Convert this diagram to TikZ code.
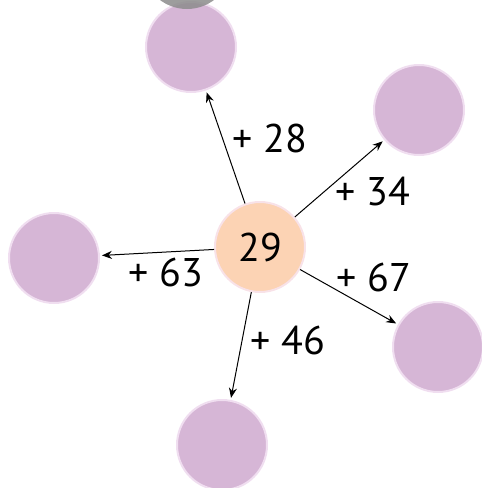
\documentclass[tikz,border=0pt]{standalone}
\usepackage{fontspec}
\setmainfont{PT Sans}
\usepackage{tikz}
\usetikzlibrary{arrows.meta,positioning}
\definecolor{peachFill}{RGB}{252,211,180}
\definecolor{peachLine}{RGB}{248,226,232}
\definecolor{plumFill}{RGB}{214,182,214}
\definecolor{plumLine}{RGB}{240,222,240}
\begin{document}
\begin{tikzpicture}[x=0.5pt, y=-0.5pt,
    bubble/.style={circle, draw=plumLine, line width=1pt, fill=plumFill, minimum size=45pt, inner sep=0pt},
    hub/.style={circle, draw=peachLine, line width=1pt, fill=peachFill, minimum size=45pt, inner sep=0pt,
                font=\fontsize{20}{24}\selectfont},
    step label/.style={font=\fontsize{20}{24}\selectfont, inner sep=0pt},
    link/.style={-{Stealth[length=5pt, width=4pt]}, line width=0.5pt, shorten >=1pt}]
    \useasboundingbox (0,0) rectangle (482,488);

    \node[hub] (C) at (260,247) {29};
    \node[bubble] (T) at (191,47) {};
    \node[bubble] (TR) at (419,110) {};
    \node[bubble] (L) at (54,258) {};
    \node[bubble] (BR) at (438,347) {};
    \node[bubble] (B) at (222,445) {};
    % grey ball peeking in at the top
    \node[circle, fill=gray!90, opacity=0.85, minimum size=45pt, inner sep=0pt] (G) at (187,-36) {};

    \draw[link] (C) -- (T);
    \draw[link] (C) -- (TR);
    \draw[link] (C) -- (L);
    \draw[link] (C) -- (BR);
    \draw[link] (C) -- (B);

    \node[step label] (l28) at (270,138) {+ 28};
    \node[step label] (l34) at (373,192) {+ 34};
    \node[step label] (l63) at (166,272) {+ 63};
    \node[step label] (l67) at (374,277) {+ 67};
    \node[step label] (l46) at (288,340) {+ 46};
\end{tikzpicture}
\end{document}
